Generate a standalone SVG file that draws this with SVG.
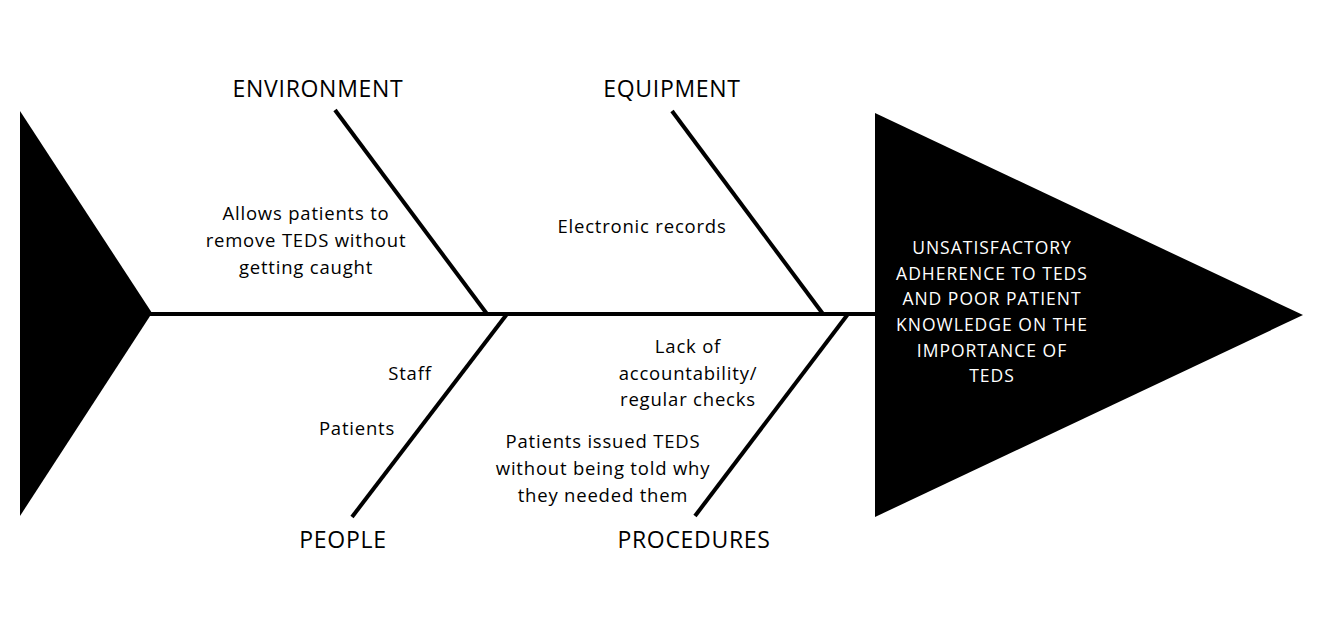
<svg xmlns="http://www.w3.org/2000/svg" width="1326" height="629" viewBox="0 0 1326 629">
<style>
.bone{stroke:#000;stroke-width:4;fill:none;stroke-linecap:butt}
.head{font-family:"Open Sans","Liberation Sans",sans-serif;font-size:23px;letter-spacing:0.7px;fill:#000;text-anchor:middle}
.cause{font-family:"Open Sans","Liberation Sans",sans-serif;font-size:18.5px;letter-spacing:0.8px;fill:#000;text-anchor:middle}
.effect{font-family:"Open Sans","Liberation Sans",sans-serif;font-size:17.5px;letter-spacing:1px;fill:#fff;text-anchor:middle}
</style>
<rect width="1326" height="629" fill="#fff"/>
<g id="tail"><polygon points="20,111 152,313 20,516" fill="#000"/></g>
<g id="connectors">
<line class="bone" x1="150" y1="314" x2="877" y2="314"/>
<line class="bone" x1="335" y1="110" x2="487" y2="314"/>
<line class="bone" x1="672" y1="111" x2="823" y2="314"/>
<line class="bone" x1="507" y1="314" x2="352" y2="517"/>
<line class="bone" x1="848" y1="314" x2="695" y2="516"/>
</g>
<g id="effect">
<polygon points="875,113 1303,315 875,517" fill="#000"/>
<text class="effect" x="992" y="254">UNSATISFACTORY</text>
<text class="effect" x="992" y="280">ADHERENCE TO TEDS</text>
<text class="effect" x="992" y="305">AND POOR PATIENT</text>
<text class="effect" x="992" y="331">KNOWLEDGE ON THE</text>
<text class="effect" x="992" y="357">IMPORTANCE OF</text>
<text class="effect" x="992" y="382">TEDS</text>
</g>
<g id="environment">
<text class="head" x="318" y="97">ENVIRONMENT</text>
<text class="cause" x="306" y="220">Allows patients to</text>
<text class="cause" x="306" y="247">remove TEDS without</text>
<text class="cause" x="306" y="274">getting caught</text>
</g>
<g id="equipment">
<text class="head" x="672" y="97">EQUIPMENT</text>
<text class="cause" x="642" y="233">Electronic records</text>
</g>
<g id="people">
<text class="head" x="343" y="548">PEOPLE</text>
<text class="cause" x="410" y="380">Staff</text>
<text class="cause" x="357" y="435">Patients</text>
</g>
<g id="procedures">
<text class="head" x="694" y="548">PROCEDURES</text>
<text class="cause" x="688" y="353">Lack of</text>
<text class="cause" x="688" y="380">accountability/</text>
<text class="cause" x="688" y="406">regular checks</text>
<text class="cause" x="603" y="448">Patients issued TEDS</text>
<text class="cause" x="603" y="475">without being told why</text>
<text class="cause" x="603" y="502">they needed them</text>
</g>
</svg>
